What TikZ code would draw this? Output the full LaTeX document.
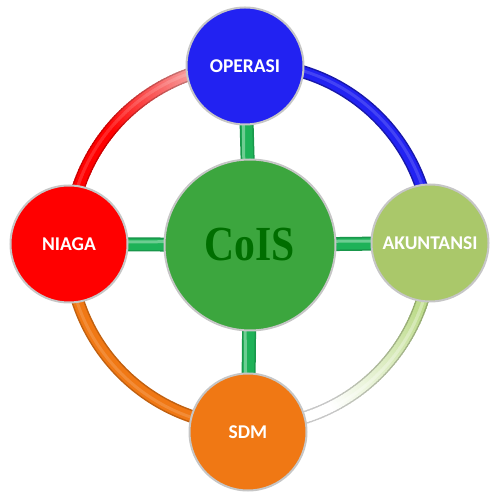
\documentclass[tikz,border=0pt]{standalone}
\usepackage{fontspec}
\setmainfont{Carlito}
\newfontfamily\cisfont{Liberation Serif}
\usetikzlibrary{backgrounds}
\definecolor{opblue}{RGB}{34,34,242}
\definecolor{hubgreen}{RGB}{60,166,62}
\definecolor{cisdark}{RGB}{0,110,0}
\definecolor{niagared}{RGB}{255,0,0}
\definecolor{akgreen}{RGB}{170,200,106}
\definecolor{sdmorange}{RGB}{240,120,20}
\definecolor{spokegreen}{RGB}{30,178,88}
\definecolor{pinklight}{RGB}{246,170,170}
\definecolor{lgreen}{RGB}{190,220,140}
\begin{document}
\begin{tikzpicture}[x=1pt,y=1pt,
  unit/.style={circle, draw=gray!45, line width=2pt, minimum size=117pt, inner sep=0pt,
    text=white, font=\bfseries\fontsize{19.5}{22}\selectfont},
  hub/.style={circle, draw=gray!45, line width=2pt, minimum size=171pt, inner sep=0pt,
    fill=hubgreen, text=cisdark, font=\cisfont\bfseries\fontsize{49}{52}\selectfont},
  spokeout/.style={line width=14pt, spokegreen!85!black},
  spokein/.style={line width=11pt, spokegreen},
  spokehi/.style={line width=3pt, spokegreen!65!white}]
\useasboundingbox (0,0) rectangle (500,500);
\coordinate (ring) at (250,255);
\node[unit, fill=opblue] (op) at (245,434) {OPERASI};
\node[unit, fill=niagared] (ni) at (69,256) {NIAGA};
\node[unit, fill=akgreen] (ak) at (430,257) {AKUNTANSI};
\node[unit, fill=sdmorange] (sdm) at (248,68) {SDM};
\node[hub] (cis) at (250,255) {\scalebox{0.85}[1]{CoIS}};
\begin{scope}[on background layer]
  % spokes
  \foreach \s in {spokeout,spokein} {
    \draw[\s] (ni.center) -- (cis.center);
    \draw[\s] (cis.center) -- (ak.center);
    \draw[\s] (op.center) -- (cis.center);
    \draw[\s] (cis.center) -- (sdm.center);
  }
  \draw[spokehi] (ni.center) ++(0,2) -- ([yshift=2pt]ak.center);
  \draw[spokehi] (op.center) ++(-2,0) -- ([xshift=-2pt]sdm.center);
  % blue arc (top right)
  \draw[line width=13pt, opblue!70!black] ([shift={(90:181)}]ring) arc[start angle=90,end angle=0,radius=181];
  \draw[line width=10pt, opblue] ([shift={(90:181)}]ring) arc[start angle=90,end angle=0,radius=181];
  \draw[line width=3pt, opblue!85!white] ([shift={(90:182)}]ring) arc[start angle=90,end angle=0,radius=182];
  % orange arc (bottom left)
  \draw[line width=13pt, sdmorange!80!black] ([shift={(180:181)}]ring) arc[start angle=180,end angle=270,radius=181];
  \draw[line width=10pt, sdmorange] ([shift={(180:181)}]ring) arc[start angle=180,end angle=270,radius=181];
  \draw[line width=3pt, sdmorange!85!white] ([shift={(180:182)}]ring) arc[start angle=180,end angle=270,radius=182];
  % red arc (top left) gradient red -> light pink toward top
  \foreach \lw/\shade/\rr in {13/80/181, 10/100/181, 3/50/182} {
    \foreach \a in {90,...,179} {
      \pgfmathtruncatemacro\p{max(0,min(100,(\a-106)*100/34))}
      \ifnum\shade=50
        \draw[line width=\lw pt, niagared!\p!pinklight!85!white] ([shift={(\a:\rr)}]ring) arc[start angle=\a,end angle=\a+1.5,radius=\rr];
      \else
        \draw[line width=\lw pt, niagared!\p!pinklight!\shade!black] ([shift={(\a:\rr)}]ring) arc[start angle=\a,end angle=\a+1.5,radius=\rr];
      \fi
    }
  }
  % green arc (bottom right) gradient light green -> white toward bottom
  \foreach \lw/\shade/\rr in {13/78/181, 10/100/181, 3/50/182} {
    \foreach \a in {-90,...,-1} {
      \pgfmathtruncatemacro\p{max(0,min(100,(\a+64)*100/42))}
      \ifnum\shade=50
        \draw[line width=\lw pt, lgreen!\p!white!70!white] ([shift={(\a:\rr)}]ring) arc[start angle=\a,end angle=\a+1.5,radius=\rr];
      \else
        \draw[line width=\lw pt, lgreen!\p!white!\shade!black] ([shift={(\a:\rr)}]ring) arc[start angle=\a,end angle=\a+1.5,radius=\rr];
      \fi
    }
  }
\end{scope}
\end{tikzpicture}
\end{document}
